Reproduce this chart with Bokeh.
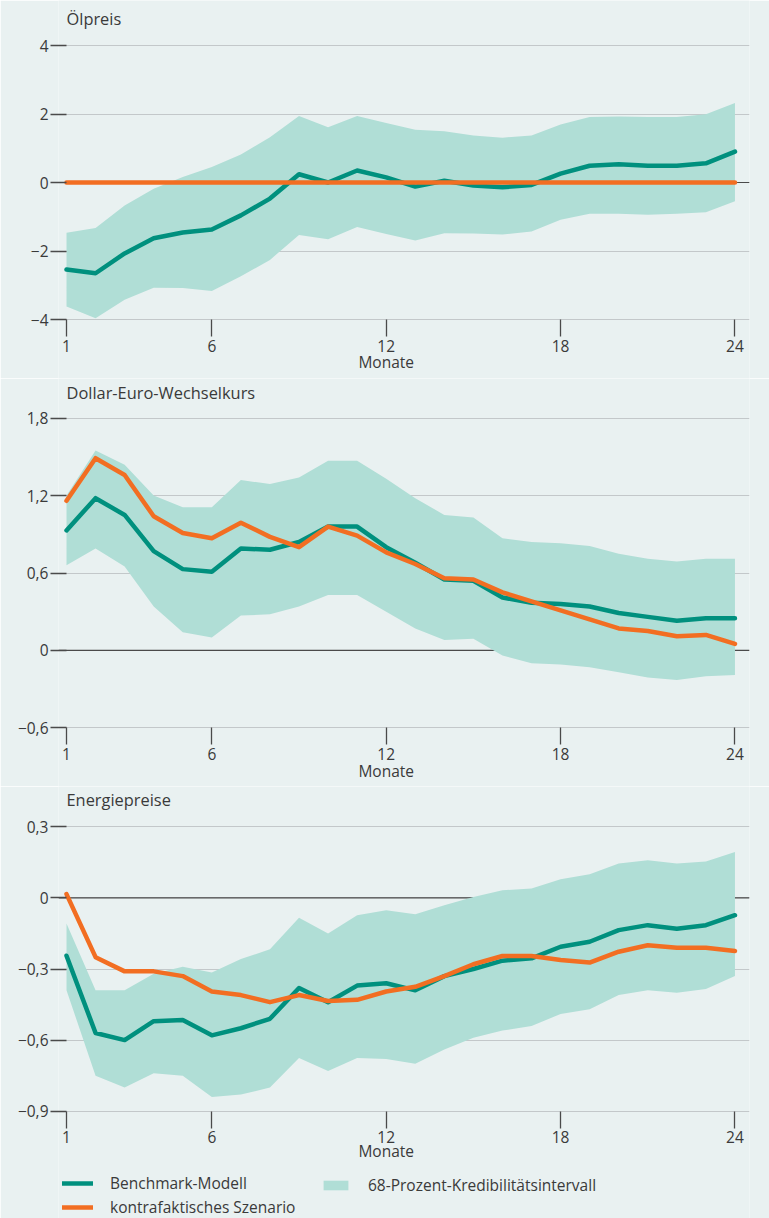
from bokeh.plotting import figure
from bokeh.layouts import column
from bokeh.models import Range1d, FixedTicker, Span, Legend, LegendItem, Label
from bokeh.embed import file_html
from bokeh.resources import INLINE

# ---------------- data ----------------
months = list(range(1, 25))
x_ticks = [1, 6, 12, 18, 24]
x_label = "Monate"

legend_labels = ["Benchmark-Modell", "kontrafaktisches Szenario", "68-Prozent-Kredibilitätsintervall"]

# Ölpreis
oil_title = "Ölpreis"
oil_bench = [-2.54, -2.65, -2.07, -1.63, -1.46, -1.37, -0.96, -0.47, 0.24, 0.00, 0.35, 0.15,
             -0.12, 0.05, -0.09, -0.14, -0.07, 0.26, 0.49, 0.53, 0.49, 0.49, 0.56, 0.90]
oil_counter = [0.0, 0.0, 0.0, 0.0, 0.0, 0.0, 0.0, 0.0, 0.0, 0.0, 0.0, 0.0,
               0.0, 0.0, 0.0, 0.0, 0.0, 0.0, 0.0, 0.0, 0.0, 0.0, 0.0, 0.0]
oil_lower = [-3.62, -3.96, -3.42, -3.07, -3.08, -3.17, -2.74, -2.26, -1.53, -1.66, -1.30, -1.50,
             -1.69, -1.48, -1.49, -1.52, -1.43, -1.09, -0.91, -0.91, -0.94, -0.91, -0.87, -0.55]
oil_upper = [-1.47, -1.33, -0.67, -0.18, 0.16, 0.45, 0.82, 1.32, 1.94, 1.61, 1.94, 1.74,
             1.54, 1.50, 1.37, 1.31, 1.37, 1.69, 1.91, 1.93, 1.91, 1.91, 1.99, 2.32]
oil_ticks = [-4, -2, 0, 2, 4]
oil_tick_labels = ["\u22124", "\u22122", "0", "2", "4"]

# Dollar-Euro-Wechselkurs
fx_title = "Dollar-Euro-Wechselkurs"
fx_bench = [0.93, 1.18, 1.05, 0.77, 0.63, 0.61, 0.79, 0.78, 0.84, 0.96, 0.96, 0.80,
            0.68, 0.55, 0.54, 0.41, 0.37, 0.36, 0.34, 0.29, 0.26, 0.23, 0.25, 0.25]
fx_counter = [1.16, 1.49, 1.36, 1.04, 0.91, 0.87, 0.99, 0.88, 0.80, 0.96, 0.89, 0.76,
              0.67, 0.56, 0.55, 0.45, 0.38, 0.31, 0.24, 0.17, 0.15, 0.11, 0.12, 0.05]
fx_lower = [0.66, 0.79, 0.65, 0.34, 0.14, 0.10, 0.27, 0.28, 0.34, 0.43, 0.43, 0.30,
            0.17, 0.08, 0.09, -0.04, -0.10, -0.11, -0.13, -0.17, -0.21, -0.23, -0.20, -0.19]
fx_upper = [1.20, 1.55, 1.44, 1.20, 1.11, 1.11, 1.32, 1.29, 1.34, 1.47, 1.47, 1.33,
            1.18, 1.05, 1.03, 0.87, 0.84, 0.83, 0.81, 0.75, 0.71, 0.69, 0.71, 0.71]
fx_ticks = [-0.6, 0.0, 0.6, 1.2, 1.8]
fx_tick_labels = ["\u22120,6", "0", "0,6", "1,2", "1,8"]

# Energiepreise
en_title = "Energiepreise"
en_bench = [-0.244, -0.57, -0.60, -0.52, -0.515, -0.58, -0.55, -0.51, -0.38, -0.44, -0.37, -0.36,
            -0.39, -0.33, -0.30, -0.265, -0.255, -0.206, -0.185, -0.136, -0.115, -0.13, -0.115, -0.073]
en_counter = [0.016, -0.25, -0.31, -0.31, -0.33, -0.395, -0.41, -0.44, -0.41, -0.435, -0.43, -0.395,
              -0.375, -0.33, -0.28, -0.245, -0.245, -0.262, -0.273, -0.227, -0.20, -0.21, -0.21, -0.224]
en_lower = [-0.39, -0.75, -0.80, -0.74, -0.75, -0.84, -0.83, -0.80, -0.675, -0.73, -0.675, -0.68,
            -0.70, -0.64, -0.59, -0.56, -0.54, -0.49, -0.47, -0.41, -0.39, -0.40, -0.384, -0.33]
en_upper = [-0.108, -0.39, -0.39, -0.32, -0.29, -0.315, -0.258, -0.217, -0.084, -0.15, -0.073, -0.052,
            -0.069, -0.031, 0.004, 0.032, 0.04, 0.079, 0.10, 0.145, 0.159, 0.145, 0.154, 0.194]
en_ticks = [-0.9, -0.6, -0.3, 0.0, 0.3]
en_tick_labels = ["\u22120,9", "\u22120,6", "\u22120,3", "0", "0,3"]

# ---------------- style / layout ----------------
BG = "#e9f1f1"
BAND = "#b0ded6"
TEAL = "#00907e"
ORANGE = "#f26e22"
GRID = "#c3c8ca"
TXT = "#3a3a3a"
TICK = "#4a4a4a"
FONT = "Open Sans"
W = 769
LEFT = 58          # frame left edge (px)
RIGHT = 20         # right border (px)
X1_PX = 66         # pixel of month 1
X_END = 24.5
FRAME_W = W - LEFT - RIGHT
X_PXU = (FRAME_W - (X1_PX - LEFT)) / (X_END - x_ticks[0])
X_START = x_ticks[0] - (X1_PX - LEFT) / X_PXU


def panel(title, bench, counter, lower, upper, ticks, tick_labels,
          H, top_px, bottom_px, title_y, label_y):
    pxu = (bottom_px - top_px) / (ticks[-1] - ticks[0])
    y_range = Range1d(ticks[0] - (H - bottom_px) / pxu, ticks[-1] + top_px / pxu)
    p = figure(width=W, height=H,
               x_range=Range1d(X_START, X_END), y_range=y_range,
               output_backend="svg", toolbar_location=None,
               min_border_left=LEFT, min_border_right=RIGHT,
               min_border_top=0, min_border_bottom=0,
               background_fill_color=BG, border_fill_color=BG,
               outline_line_color=None)

    p.xgrid.visible = False
    p.ygrid.grid_line_color = GRID
    p.ygrid.grid_line_width = 1.2

    xa = p.xaxis[0]
    xa.fixed_location = ticks[0]
    xa.ticker = FixedTicker(ticks=x_ticks)
    xa.axis_line_color = None
    xa.major_tick_in = 0
    xa.major_tick_out = 17
    xa.major_tick_line_color = TICK
    xa.major_tick_line_width = 1.3
    xa.minor_tick_line_color = None
    xa.major_label_standoff = 3
    xa.major_label_text_font = FONT
    xa.major_label_text_font_size = "15.5px"
    xa.major_label_text_color = TXT

    ya = p.yaxis[0]
    ya.ticker = FixedTicker(ticks=ticks)
    ya.major_label_overrides = dict(zip(ticks, tick_labels))
    ya.axis_line_color = None
    ya.major_tick_in = X1_PX - LEFT
    ya.major_tick_out = 16 - (X1_PX - LEFT)
    ya.major_tick_line_color = TICK
    ya.major_tick_line_width = 1.3
    ya.minor_tick_line_color = None
    ya.major_label_standoff = 2
    ya.major_label_text_font = FONT
    ya.major_label_text_font_size = "15.5px"
    ya.major_label_text_color = TXT

    p.add_layout(Span(location=0, dimension="width", line_color=TICK,
                      line_width=1.2, level="underlay"))

    rb = p.varea(x=months, y1=lower, y2=upper, fill_color=BAND, fill_alpha=1.0)
    rt = p.line(x=months, y=bench, line_color=TEAL, line_width=4.5,
                line_join="round", line_cap="round")
    ro = p.line(x=months, y=counter, line_color=ORANGE, line_width=4.5,
                line_join="round", line_cap="round")

    p.add_layout(Label(x=X1_PX - LEFT, y=H - title_y, x_units="screen", y_units="screen",
                       text=title, text_font=FONT, text_font_size="16.4px",
                       text_color=TXT, text_align="left", text_baseline="alphabetic"))
    p.add_layout(Label(x=x_ticks[2], y=H - label_y, x_units="data", y_units="screen",
                       text=x_label, text_font=FONT, text_font_size="15.5px",
                       text_color=TXT, text_align="center", text_baseline="alphabetic"))
    return p, rb, rt, ro


p1, _, _, _ = panel(oil_title, oil_bench, oil_counter, oil_lower, oil_upper,
                    oil_ticks, oil_tick_labels, 378, 45.0, 319.0, 17.7, 361.7)
p2, _, _, _ = panel(fx_title, fx_bench, fx_counter, fx_lower, fx_upper,
                    fx_ticks, fx_tick_labels, 408, 39.7, 349.3, 13.5, 392.0)
p3, rb3, rt3, ro3 = panel(en_title, en_bench, en_counter, en_lower, en_upper,
                          en_ticks, en_tick_labels, 432, 40.3, 324.7, 13.3, 364.7)

leg_style = dict(background_fill_alpha=0, border_line_alpha=0, padding=0, margin=0,
                 glyph_width=31, glyph_height=12, label_standoff=17, spacing=2,
                 label_height=20, label_text_font=FONT, label_text_font_size="15.5px",
                 label_text_color=TXT, orientation="vertical")
legA = Legend(items=[LegendItem(label=legend_labels[0], renderers=[rt3]),
                     LegendItem(label=legend_labels[1], renderers=[ro3])],
              location=(62 - LEFT, 0), **leg_style)
legB = Legend(items=[LegendItem(label=legend_labels[2], renderers=[rb3])],
              location=(320 - LEFT, 22), **leg_style)
p3.add_layout(legA)
p3.add_layout(legB)

layout = column(p1, p2, p3, spacing=0)
open("out.html", "w").write(file_html(layout, INLINE))
